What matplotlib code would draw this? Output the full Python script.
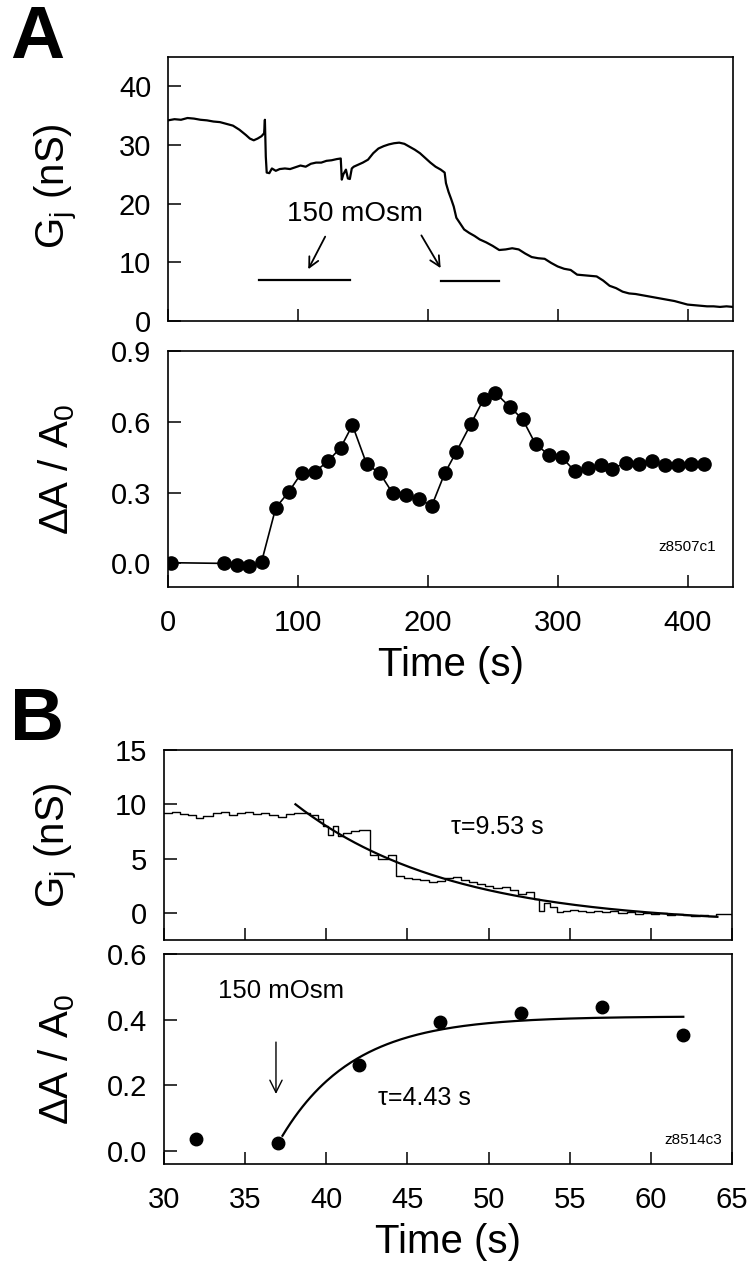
import matplotlib
matplotlib.use("Agg")
import matplotlib.pyplot as plt
import numpy as np

plt.rcParams['font.family'] = ['Liberation Sans', 'DejaVu Sans']
plt.rcParams['mathtext.fontset'] = 'custom'
plt.rcParams['mathtext.rm'] = 'Liberation Sans'
plt.rcParams['mathtext.it'] = 'Liberation Sans'
plt.rcParams['mathtext.default'] = 'regular'

# ---------------- Panel A: Gj trace ----------------
tA_trace = [0, 5, 10, 15, 20, 25, 30, 35, 40, 45, 50, 55, 60, 63, 66, 69, 72, 74, 74.6, 75.3, 76,
            78, 80, 83, 86, 90, 94, 98, 102, 106, 110, 114, 118, 122, 126, 130, 133, 133.8, 135,
            137, 138.5, 140, 141.5, 143, 146, 150, 154, 158, 162, 166, 170, 174, 178, 182, 186,
            190, 194, 198, 202, 206, 210, 213, 214, 216, 218, 220, 222, 225, 228, 232, 236, 240,
            245, 250, 255, 260, 265, 270, 275, 280, 285, 290, 295, 300, 305, 310, 315, 320, 325,
            330, 335, 340, 345, 350, 355, 360, 365, 370, 375, 380, 385, 390, 395, 400, 405, 410,
            415, 420, 425, 430, 435]
gA_trace = [34.2, 34.4, 34.3, 34.6, 34.5, 34.3, 34.2, 34.0, 33.9, 33.6, 33.3, 32.6, 31.7, 31.1,
            30.8, 31.1, 31.5, 32.0, 34.3, 28.0, 25.3, 25.2, 26.0, 25.6, 25.9, 26.0, 25.9, 26.2,
            26.5, 26.3, 26.8, 27.0, 27.0, 27.3, 27.4, 27.6, 27.7, 24.1, 25.0, 25.8, 24.3, 24.2,
            26.0, 26.3, 26.6, 27.0, 27.5, 28.6, 29.4, 29.8, 30.1, 30.3, 30.4, 30.2, 29.7, 29.2,
            28.6, 27.8, 27.0, 26.3, 25.8, 25.3, 23.5, 22.0, 20.8, 19.5, 17.6, 16.6, 15.6, 15.0,
            14.5, 13.9, 13.4, 12.8, 12.1, 12.2, 12.4, 12.2, 11.5, 10.9, 10.7, 10.6, 9.9, 9.3,
            8.9, 8.7, 7.9, 7.8, 7.7, 7.6, 6.9, 6.0, 5.6, 5.0, 4.7, 4.6, 4.4, 4.2, 4.0, 3.8, 3.6,
            3.4, 3.1, 2.8, 2.7, 2.6, 2.5, 2.5, 2.4, 2.5, 2.4]
barsA = [(70, 140.5, 7.0), (210, 255, 6.9)]  # (start, end, level) of 150 mOsm bars

# ---------------- Panel A: dA/A0 ----------------
tA_pts = [2, 43, 53, 62, 72, 83, 93, 103, 113, 123, 133, 142, 153, 163, 173, 183, 193, 203,
          213, 222, 233, 243, 252, 263, 273, 283, 293, 303, 313, 323, 333, 342, 353, 363, 373,
          383, 393, 403, 413]
aA_pts = [0.003, 0.0, -0.008, -0.013, 0.006, 0.236, 0.303, 0.385, 0.388, 0.432, 0.491, 0.586,
          0.42, 0.383, 0.297, 0.289, 0.274, 0.243, 0.381, 0.473, 0.589, 0.696, 0.723, 0.664,
          0.611, 0.505, 0.461, 0.451, 0.392, 0.406, 0.419, 0.402, 0.427, 0.42, 0.433, 0.416,
          0.416, 0.423, 0.42]

# ---------------- Panel B: Gj trace ----------------
tB_trace = [30.0, 30.5, 31.0, 31.5, 32.0, 32.4, 33.0, 33.5, 34.0, 34.5, 35.0, 35.5, 36.0, 36.5,
            37.0, 37.5, 38.0, 38.5, 39.0, 39.5, 39.8, 40.1, 40.4, 40.7, 41.0, 41.5, 42.0, 42.7,
            43.2, 43.8, 44.3, 44.8, 45.3, 45.8, 46.3, 46.8, 47.3, 47.8, 48.3, 48.8, 49.3, 49.8,
            50.3, 50.8, 51.3, 51.8, 52.3, 52.8, 53.1, 53.4, 53.8, 54.2, 54.6, 55.0, 55.5, 56.0,
            56.5, 57.0, 57.5, 58.0, 58.5, 59.0, 59.5, 60.0, 60.5, 61.0, 61.5, 62.0, 62.5, 63.0,
            63.5, 64.0, 64.5, 65.0]
gB_trace = [9.2, 9.3, 9.1, 9.0, 8.7, 8.9, 9.2, 9.3, 9.0, 9.2, 9.3, 9.1, 9.2, 9.0, 8.8, 9.1,
            9.2, 9.2, 9.0, 8.6, 8.0, 7.2, 8.0, 7.1, 7.4, 7.5, 7.6, 5.3, 5.0, 5.3, 3.4, 3.2, 3.1,
            3.0, 2.8, 2.9, 3.2, 3.3, 3.0, 2.8, 2.7, 2.5, 2.3, 2.4, 2.1, 1.7, 1.9, 1.3, 0.2, 0.9,
            0.5, 0.1, 0.2, 0.3, 0.2, 0.1, 0.2, 0.1, 0.2, 0.0, 0.1, -0.1, 0.0, -0.1, 0.0, -0.2,
            -0.1, -0.2, -0.3, -0.2, -0.3, -0.1, -0.1, -0.2]
fitB_top = dict(t0=38.1, t1=64.1, offset=-1.09, amp=11.09, tau=9.53)

# ---------------- Panel B: dA/A0 ----------------
tB_pts = [32, 37, 42, 47, 52, 57, 62]
aB_pts = [0.035, 0.025, 0.263, 0.394, 0.42, 0.44, 0.354]
fitB_bot = dict(t0=37.3, t1=62.0, base=0.046, amp=0.364, tau=4.43)

W, H = 753, 1280
fig = plt.figure(figsize=(W / 100, H / 100), dpi=100)

def add_ax(l, r, t, b):
    return fig.add_axes([l / W, 1 - b / H, (r - l) / W, (b - t) / H])

TICK_FS = 21
LAB_FS = 29

def style(ax, xlab=True):
    for s in ax.spines.values():
        s.set_linewidth(1.2)
    ax.tick_params(direction='in', length=9, width=1.1, top=False, right=False,
                   labelsize=TICK_FS, pad=12)
    ax.tick_params(axis='x', pad=16)
    if not xlab:
        ax.tick_params(axis='x', labelbottom=False)

# A top
ax1 = add_ax(168, 733, 57, 321)
ax1.plot(tA_trace, gA_trace, color='black', lw=1.6)
for s, e, lev in barsA:
    ax1.plot([s, e], [lev, lev], color='black', lw=1.6)
ax1.text(144, 18.3, '150 mOsm', ha='center', va='center', fontsize=20)
ax1.annotate('', xy=(107, 8.4), xytext=(122, 14.8),
             arrowprops=dict(arrowstyle='->', lw=1.3, color='black', mutation_scale=18))
ax1.annotate('', xy=(211, 8.6), xytext=(194, 15.0),
             arrowprops=dict(arrowstyle='->', lw=1.3, color='black', mutation_scale=18))
ax1.set_xlim(0, 435)
ax1.set_ylim(0, 45)
ax1.set_xticks([0, 100, 200, 300, 400])
ax1.set_yticks([0, 10, 20, 30, 40])
style(ax1, xlab=False)

# A bottom
ax2 = add_ax(168, 733, 351, 587)
ax2.plot(tA_pts, aA_pts, color='black', lw=1.2, marker='o', ms=9.5, mfc='black', mec='black')
ax2.set_xlim(0, 435)
ax2.set_ylim(-0.1, 0.9)
ax2.set_xticks([0, 100, 200, 300, 400])
ax2.set_yticks([0.0, 0.3, 0.6, 0.9])
ax2.set_yticklabels(['0.0', '0.3', '0.6', '0.9'])
ax2.text(400, 0.07, 'z8507c1', ha='center', va='center', fontsize=11)
style(ax2)
ax2.set_xlabel('Time (s)', fontsize=LAB_FS, labelpad=6)

# B top
ax3 = add_ax(164, 732, 750, 940)
ax3.plot(tB_trace, gB_trace, color='black', lw=1.0, drawstyle='steps-post')
tf = np.linspace(fitB_top['t0'], fitB_top['t1'], 200)
ax3.plot(tf, fitB_top['offset'] + fitB_top['amp'] * np.exp(-(tf - fitB_top['t0']) / fitB_top['tau']),
         color='black', lw=1.6)
ax3.text(47.7, 7.9, 'τ=9.53 s', ha='left', va='center', fontsize=18)
ax3.set_xlim(30, 65)
ax3.set_ylim(-2.5, 15)
ax3.set_xticks([30, 35, 40, 45, 50, 55, 60, 65])
ax3.set_yticks([0, 5, 10, 15])
style(ax3, xlab=False)

# B bottom
ax4 = add_ax(164, 732, 954, 1164)
tf2 = np.linspace(fitB_bot['t0'], fitB_bot['t1'], 200)
ax4.plot(tf2, fitB_bot['base'] + fitB_bot['amp'] * (1 - np.exp(-(tf2 - fitB_bot['t0']) / fitB_bot['tau'])),
         color='black', lw=1.6)
ax4.plot(tB_pts, aB_pts, ls='none', marker='o', ms=9, mfc='black', mec='black')
ax4.text(33.3, 0.486, '150 mOsm', ha='left', va='center', fontsize=18.5)
ax4.annotate('', xy=(36.9, 0.165), xytext=(36.9, 0.34),
             arrowprops=dict(arrowstyle='->', lw=1.0, color='black', mutation_scale=22))
ax4.text(43.2, 0.16, 'τ=4.43 s', ha='left', va='center', fontsize=18)
ax4.text(62.6, 0.034, 'z8514c3', ha='center', va='center', fontsize=11)
ax4.set_xlim(30, 65)
ax4.set_ylim(-0.04, 0.6)
ax4.set_xticks([30, 35, 40, 45, 50, 55, 60, 65])
ax4.set_yticks([0.0, 0.2, 0.4, 0.6])
ax4.set_yticklabels(['0.0', '0.2', '0.4', '0.6'])
style(ax4)
ax4.set_xlabel('Time (s)', fontsize=LAB_FS, labelpad=6)

# y labels
def ylab(txt, x, y):
    fig.text(x / W, 1 - y / H, txt, rotation=90, ha='center', va='center', fontsize=LAB_FS)

ylab('G$_j$ (nS)', 57, 186)
ylab('ΔA / A$_0$', 57, 469)
ylab('G$_j$ (nS)', 57, 845)
ylab('ΔA / A$_0$', 57, 1059)

fig.text(10 / W, 1 - 4 / H, 'A', fontsize=54, fontweight='bold', ha='left', va='top')
fig.text(10 / W, 1 - 686 / H, 'B', fontsize=54, fontweight='bold', ha='left', va='top')

fig.savefig('out.png', dpi=100)
